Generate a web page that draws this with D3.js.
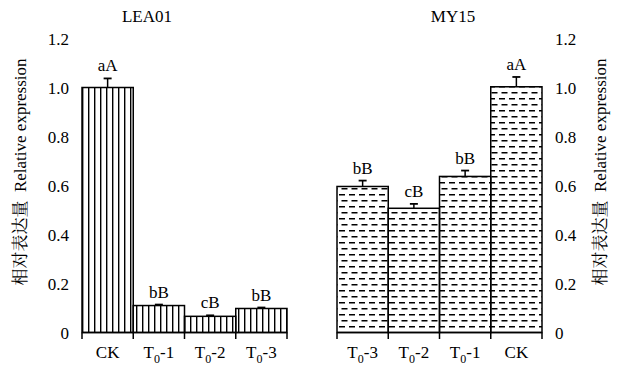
<!DOCTYPE html>
<html><head><meta charset="utf-8">
<script src="https://cdn.jsdelivr.net/npm/d3@7/dist/d3.min.js"></script>
<style>body{margin:0;background:#fff}</style>
</head><body>
<svg id="c" width="619" height="367"></svg>
<script>
const leftCats = ["CK","T0-1","T0-2","T0-3"];
const leftVals = [1.0,0.11,0.066,0.098];
const leftErr  = [0.037,0.004,0.004,0.004];
const leftSig  = ["aA","bB","cB","bB"];
const rightCats = ["T0-3","T0-2","T0-1","CK"];
const rightVals = [0.596,0.507,0.637,1.003];
const rightErr  = [0.024,0.018,0.024,0.04];
const rightSig  = ["bB","cB","bB","aA"];
const yTicks = [0,0.2,0.4,0.6,0.8,1.0,1.2];
const yTickLabels = ["0","0.2","0.4","0.6","0.8","1.0","1.2"];
const titles = ["LEA01","MY15"];
const yTitleCn = "相对表达量";
const yTitleEn = "Relative expression";

const SF = "Liberation Serif";
const CJ = "Noto Serif CJK SC";
const svg = d3.select("#c");
const defs = svg.append("defs");
const pv = defs.append("pattern").attr("id","vh").attr("patternUnits","userSpaceOnUse")
  .attr("width",6).attr("height",10).attr("x",82);
pv.append("rect").attr("x",0).attr("y",0).attr("width",1.4).attr("height",10).attr("fill","#000");
const ph = defs.append("pattern").attr("id","hd").attr("patternUnits","userSpaceOnUse")
  .attr("width",10).attr("height",12).attr("x",338).attr("y",0);
ph.append("rect").attr("x",1).attr("y",2).attr("width",6).attr("height",1.5).attr("fill","#000");
ph.append("rect").attr("x",3.5).attr("y",8).attr("width",6).attr("height",1.5).attr("fill","#000");

const y = d3.scaleLinear().domain([0,1.2]).range([332.5,38.5]);

function panel(cats, vals, errs, sigs, x0, x1, pat, side, title, titleX, labelX, ytX){
  const x = d3.scaleBand().domain(cats).range([x0,x1]).padding(0);
  const g = svg.append("g");
  g.selectAll("rect.bar").data(cats).enter().append("rect")
    .attr("x",d=>x(d)).attr("width",x.bandwidth())
    .attr("y",(d,i)=>y(vals[i])).attr("height",(d,i)=>y(0)-y(vals[i]))
    .attr("fill","url(#"+pat+")").attr("stroke","#000").attr("stroke-width",1.5);
  cats.forEach((d,i)=>{
    const cx = x(d)+x.bandwidth()/2;
    g.append("line").attr("x1",cx).attr("x2",cx).attr("y1",y(vals[i])).attr("y2",y(vals[i]+errs[i]))
      .attr("stroke","#000").attr("stroke-width",1.5);
    g.append("line").attr("x1",cx-4).attr("x2",cx+4).attr("y1",y(vals[i]+errs[i])).attr("y2",y(vals[i]+errs[i]))
      .attr("stroke","#000").attr("stroke-width",1.8);
    g.append("text").attr("font-family",SF).attr("x",cx).attr("y",y(vals[i]+errs[i])-7).attr("text-anchor","middle")
      .attr("font-size",17).text(sigs[i]);
  });
  g.append("line").attr("x1",x0).attr("x2",x1).attr("y1",y(0)).attr("y2",y(0)).attr("stroke","#000").attr("stroke-width",1.6);
  const bounds = cats.map(d=>x(d)).concat([x1]);
  bounds.forEach(b=>g.append("line").attr("x1",b).attr("x2",b).attr("y1",y(0)).attr("y2",y(0)+6.5).attr("stroke","#000").attr("stroke-width",1.5));
  cats.forEach(d=>{
    const t = g.append("text").attr("font-family",SF).attr("x",x(d)+x.bandwidth()/2).attr("y",358).attr("text-anchor","middle")
      .attr("font-size",17);
    if(d.startsWith("T0")){
      t.append("tspan").text("T");
      t.append("tspan").attr("font-size",12).attr("dy",5).text("0");
      t.append("tspan").attr("dy",-5).text(d.slice(2));
    } else t.text(d);
  });
  yTicks.forEach((v,i)=>{
    g.append("text").attr("font-family",SF).attr("x",labelX).attr("y",y(v)+6)
      .attr("text-anchor", side==="left"?"end":"start")
      .attr("font-size",17).text(yTickLabels[i]);
  });
  g.append("text").attr("font-family",SF).attr("x",titleX).attr("y",22).attr("text-anchor","middle")
    .attr("font-size",17).text(title);
  const yt = g.append("text").attr("transform",`translate(${ytX},172) rotate(-90)`).attr("text-anchor","middle")
    .attr("font-size",17).attr("fill","#000");
  yt.append("tspan").attr("font-family",CJ).text(yTitleCn);
  yt.append("tspan").attr("font-family",SF).text("\u00a0\u00a0"+yTitleEn);
}
panel(leftCats,leftVals,leftErr,leftSig,82,287,"vh","left",titles[0],147,69,26);
panel(rightCats,rightVals,rightErr,rightSig,337,542,"hd","right",titles[1],453,555,606);
</script>
</body></html>
